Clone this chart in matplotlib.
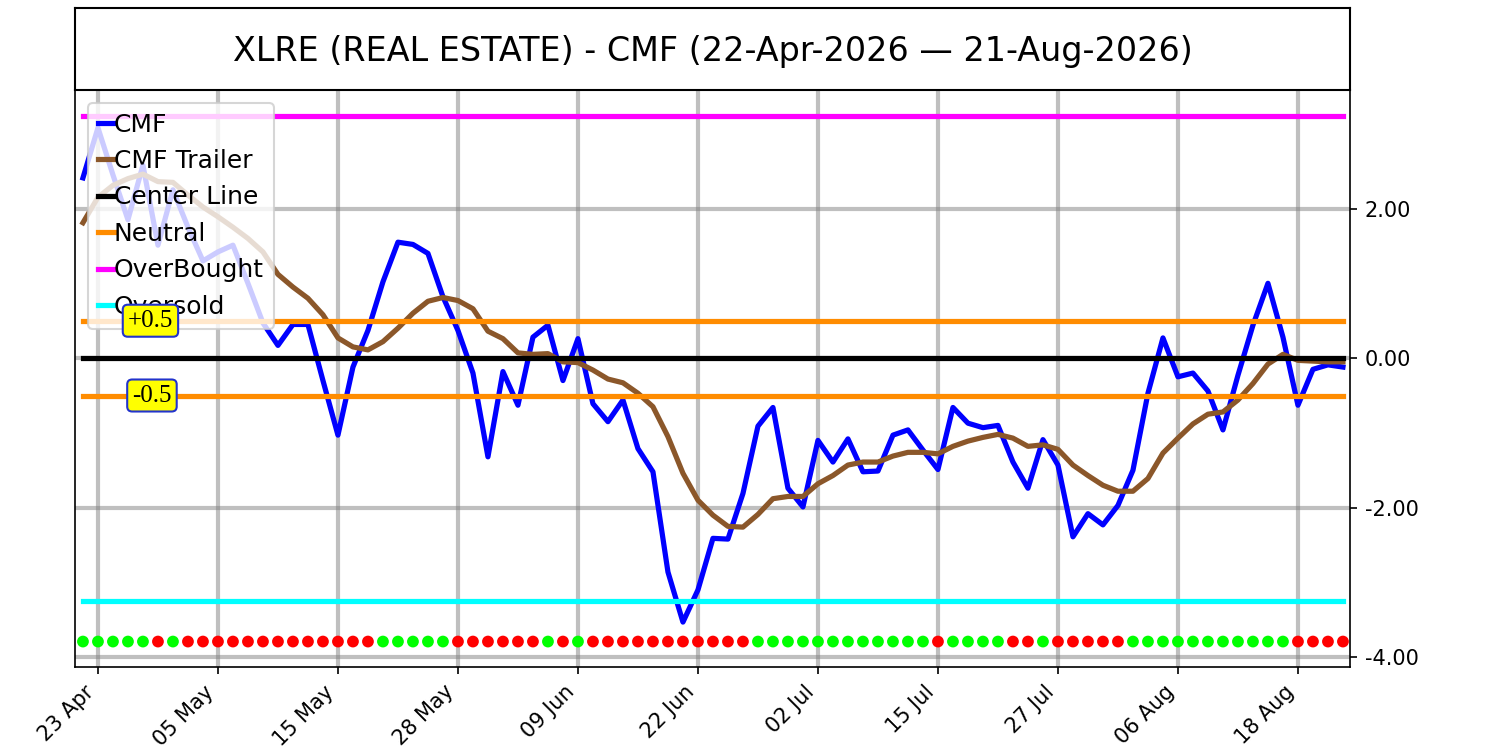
import numpy as np
import pandas as pd
import matplotlib
matplotlib.use("Agg")
import matplotlib.pyplot as plt
from matplotlib.ticker import MultipleLocator, FormatStrFormatter

# ---------------- data ----------------
holidays = ["2026-05-25", "2026-06-19", "2026-07-03"]
dates = pd.bdate_range("2026-04-22", "2026-08-21", freq="C", holidays=holidays)

cmf = [2.41, 3.08, 2.45, 1.85, 2.58, 1.51, 2.25, 1.75, 1.30, 1.42,
       1.51, 1.00, 0.47, 0.17, 0.45, 0.45, -0.30, -1.03, -0.12, 0.37,
       1.02, 1.55, 1.52, 1.40, 0.82, 0.37, -0.20, -1.32, -0.18, -0.63,
       0.28, 0.44, -0.30, 0.26, -0.61, -0.85, -0.56, -1.21, -1.52, -2.86,
       -3.53, -3.10, -2.41, -2.42, -1.81, -0.91, -0.66, -1.74, -1.99, -1.10,
       -1.39, -1.08, -1.52, -1.51, -1.03, -0.96, -1.23, -1.49, -0.66, -0.87,
       -0.93, -0.90, -1.39, -1.74, -1.09, -1.43, -2.39, -2.08, -2.23, -1.97,
       -1.50, -0.47, 0.27, -0.25, -0.20, -0.44, -0.96, -0.23, 0.44, 1.00,
       0.28, -0.63, -0.15, -0.09, -0.12]

trailer = [1.81, 2.15, 2.31, 2.40, 2.46, 2.36, 2.35, 2.18, 2.02, 1.89,
           1.75, 1.60, 1.42, 1.12, 0.95, 0.80, 0.58, 0.27, 0.15, 0.11,
           0.22, 0.40, 0.60, 0.76, 0.81, 0.77, 0.66, 0.36, 0.26, 0.07,
           0.05, 0.06, -0.05, -0.06, -0.16, -0.28, -0.33, -0.47, -0.65, -1.05,
           -1.54, -1.90, -2.10, -2.25, -2.26, -2.09, -1.88, -1.85, -1.85, -1.68,
           -1.57, -1.43, -1.39, -1.39, -1.31, -1.26, -1.26, -1.28, -1.18, -1.11,
           -1.06, -1.02, -1.07, -1.18, -1.16, -1.22, -1.43, -1.57, -1.70, -1.78,
           -1.78, -1.61, -1.27, -1.07, -0.88, -0.75, -0.72, -0.56, -0.34, -0.08,
           0.05, -0.03, -0.04, -0.05, -0.05]

signal = "GGGGGRGRRRRRRRRRRRRRGGGGGRRRRRRGRGRRRRRRRRRRRGGGGGGGGGGGGRGGGGRRGRRRRRGGGGGGGGGGGRRRR"

center_level = 0.0
neutral_levels = [0.5, -0.5]
overbought_level = 3.24
oversold_level = -3.25
dot_level = -3.79

title = "XLRE (REAL ESTATE) - CMF (22-Apr-2026 \u2014 21-Aug-2026)"

# ---------------- plot ----------------
n = len(cmf)
x = np.arange(n)

fig = plt.figure(figsize=(10, 5), dpi=150)
ax = fig.add_axes([0.05, 0.1107, 0.85, 0.7693])
tax = fig.add_axes([0.05, 0.88, 0.85, 0.109])
tax.set_xticks([]); tax.set_yticks([])
for s in tax.spines.values():
    s.set_linewidth(1.0)
tax.text(0.5, 0.47, title, ha="center", va="center", fontsize=16, transform=tax.transAxes)

lw = 2.5
ax.plot(x, cmf, color="#0000ff", lw=lw, label="CMF")
ax.plot(x, trailer, color="#8B572A", lw=lw, label="CMF Trailer")
ax.plot(x, np.full(n, center_level), color="black", lw=lw, label="Center Line")
ax.plot(x, np.full(n, neutral_levels[0]), color="#ff8c00", lw=lw, label="Neutral")
ax.plot(x, np.full(n, neutral_levels[1]), color="#ff8c00", lw=lw)
ax.plot(x, np.full(n, overbought_level), color="#ff00ff", lw=lw, label="OverBought")
ax.plot(x, np.full(n, oversold_level), color="#00ffff", lw=lw, label="Oversold")

cols = ["#00ff00" if c == "G" else "#ff0000" for c in signal]
ax.scatter(x, np.full(n, dot_level), c=cols, s=32, zorder=3, linewidths=0)

ax.legend(loc="upper left", fontsize=12, handlelength=0.65, handletextpad=0.0,
          borderaxespad=0.5, labelspacing=0.5, borderpad=0.4)

bbox = dict(boxstyle="round,pad=0.2", fc="yellow", ec="#2233cc", lw=1)
ax.text(4.5, neutral_levels[0], "+0.5", ha="center", va="center", fontsize=12,
        family="Liberation Serif", bbox=bbox, zorder=7)
ax.text(4.6, neutral_levels[1], "-0.5", ha="center", va="center", fontsize=12,
        family="Liberation Serif", bbox=bbox, zorder=7)

ax.set_xlim(-0.53, 84.47)
ax.set_ylim(-4.13, 3.585)
ticks = list(range(1, n, 8))
ax.set_xticks(ticks)
ax.set_xticklabels([dates[i].strftime("%d %b") for i in ticks], rotation=45, ha="right",
                   rotation_mode="default", fontsize=10)
ax.yaxis.tick_right()
ax.yaxis.set_major_locator(MultipleLocator(2))
ax.yaxis.set_major_formatter(FormatStrFormatter("%.2f"))
ax.tick_params(labelsize=10)
ax.grid(True, color="gray", alpha=0.5, lw=2)
ax.set_axisbelow(True)

fig.savefig("out.png", dpi=150)
